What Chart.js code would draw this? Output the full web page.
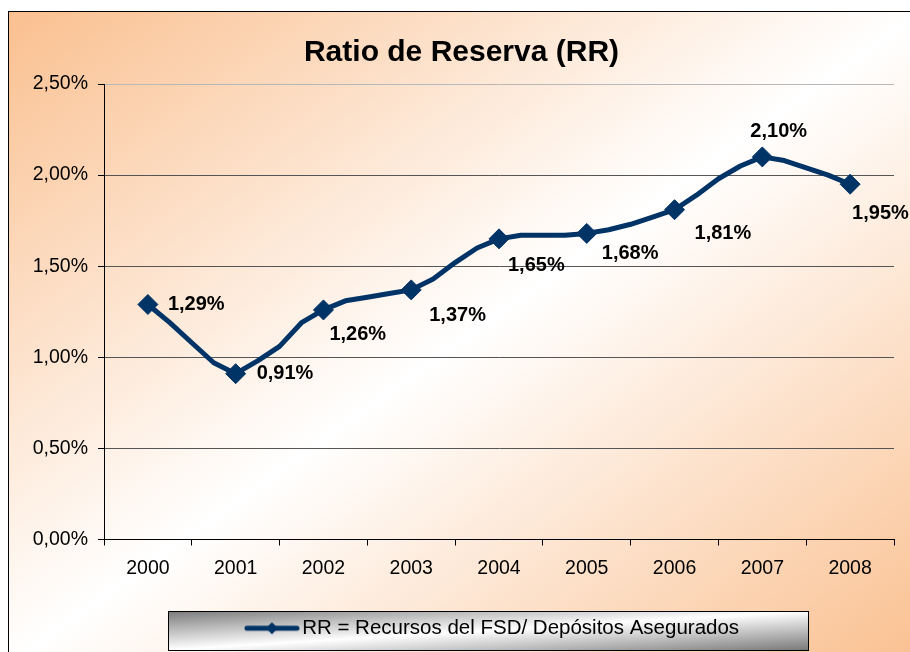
<!DOCTYPE html>
<html lang="es">
<head>
<meta charset="utf-8">
<title>Ratio de Reserva (RR)</title>
<script src="https://cdn.jsdelivr.net/npm/chart.js@4.4.1/dist/chart.umd.min.js"></script>
<style>
    html, body { margin: 0; padding: 0; background: #fff; overflow: hidden; }
    .fondo {
        position: absolute;
        left: 8px;
        top: 11px;
        width: 912px;
        height: 652px;
        border-left: 1px solid #000;
        border-top: 1px solid #000;
        background: linear-gradient(to bottom right, #fac090 0%, #ffffff 50%, #fac090 100%);
    }
    #ratioChart { position: absolute; left: 0; top: 0; }
</style>
</head>
<body>
<div class="fondo"></div>
<canvas id="ratioChart" width="910" height="652"></canvas>
<script>
// ========================================
// RATIO DE RESERVA (RR) - datos trimestrales
// ========================================

// Años del eje X (un marcador por año, a diciembre)
const years = ['2000', '2001', '2002', '2003', '2004', '2005', '2006', '2007', '2008'];

// Valores trimestrales del ratio (%), dic-2000 ... dic-2008
const rrValues = [
    1.29, 1.19, 1.08, 0.97,
    0.91, 0.98, 1.06, 1.19,
    1.26, 1.31, 1.33, 1.35,
    1.37, 1.43, 1.52, 1.60,
    1.65, 1.67, 1.67, 1.67,
    1.68, 1.70, 1.73, 1.77,
    1.81, 1.89, 1.98, 2.05,
    2.10, 2.08, 2.04, 2.00,
    1.95
];
const pointsPerYear = 4;

// Marcas del eje Y
const yTickValues = [0, 0.5, 1.0, 1.5, 2.0, 2.5];

const seriesLabel = 'RR = Recursos del FSD/ Depósitos Asegurados';

// Desplazamiento de cada etiqueta respecto de su marcador (px)
const labelOffsets = [
    [20, 0], [21, 0], [6, 25], [18, 26], [9, 27],
    [15, 20], [20, 24], [-12, -25], [2, 29]
];

const NAVY = '#003366';
const FONT_FAMILY = '"Liberation Sans", Arial, sans-serif';

// Formato 1,29%
function formatPct(v) {
    return v.toFixed(2).replace('.', ',') + '%';
}

// Símbolo de la leyenda: línea con rombo
function makeLegendSymbol() {
    const c = document.createElement('canvas');
    c.width = 56;
    c.height = 16;
    const g = c.getContext('2d');
    g.strokeStyle = NAVY;
    g.lineWidth = 5;
    g.lineCap = 'round';
    g.beginPath();
    g.moveTo(3, 8);
    g.lineTo(53, 8);
    g.stroke();
    g.fillStyle = NAVY;
    g.beginPath();
    g.moveTo(22, 8);
    g.lineTo(28, 2);
    g.lineTo(34, 8);
    g.lineTo(28, 14);
    g.closePath();
    g.fill();
    return c;
}

// Etiquetas de datos (negrita) junto a cada marcador anual
const etiquetasPlugin = {
    id: 'etiquetas',
    afterDatasetsDraw(chart) {
        const meta = chart.getDatasetMeta(0);
        const ctx = chart.ctx;
        ctx.save();
        ctx.font = 'bold 20px ' + FONT_FAMILY;
        ctx.fillStyle = '#000';
        ctx.textAlign = 'left';
        ctx.textBaseline = 'middle';
        years.forEach(function (year, k) {
            const i = k * pointsPerYear;
            const pt = meta.data[i];
            const off = labelOffsets[k];
            ctx.fillText(formatPct(rrValues[i]), pt.x + off[0], pt.y + off[1]);
        });
        ctx.restore();
    }
};

// Recuadro gris de la leyenda + desplazamiento de la leyenda
const cajaLeyendaPlugin = {
    id: 'cajaLeyenda',
    afterLayout(chart, args, opts) {
        chart.legend.left += opts.shift;
        chart.legend.right += opts.shift;
    },
    beforeDraw(chart, args, opts) {
        const ctx = chart.ctx;
        const b = opts.box;
        ctx.save();
        ctx.translate(b.left, b.top);
        ctx.scale(b.width, b.height);
        const grad = ctx.createLinearGradient(0, 0, 1, 1);
        grad.addColorStop(0, '#7a7a7a');
        grad.addColorStop(0.5, '#ffffff');
        grad.addColorStop(1, '#7a7a7a');
        ctx.fillStyle = grad;
        ctx.fillRect(0, 0, 1, 1);
        ctx.restore();
        ctx.save();
        ctx.strokeStyle = '#000';
        ctx.lineWidth = 1;
        ctx.strokeRect(b.left + 0.5, b.top + 0.5, b.width, b.height);
        ctx.restore();
    }
};

function initChart() {
    const canvas = document.getElementById('ratioChart');
    const legendSymbol = makeLegendSymbol();

    const points = rrValues.map(function (v, i) {
        return { x: i / pointsPerYear, y: v };
    });

    new Chart(canvas, {
        type: 'line',
        data: {
            datasets: [{
                label: seriesLabel,
                data: points,
                borderColor: NAVY,
                backgroundColor: NAVY,
                borderWidth: 5,
                borderJoinStyle: 'round',
                borderCapStyle: 'round',
                tension: 0,
                fill: false,
                pointStyle: 'rectRot',
                pointRadius: function (c) {
                    return c.dataIndex % pointsPerYear === 0 ? 10 : 0;
                },
                pointBorderWidth: 1,
                pointBackgroundColor: NAVY,
                pointBorderColor: NAVY
            }]
        },
        options: {
            responsive: false,
            animation: false,
            devicePixelRatio: 1,
            events: [],
            layout: {
                padding: { left: 29, right: 16, top: 0, bottom: 3.5 }
            },
            plugins: {
                title: {
                    display: true,
                    text: 'Ratio de Reserva (RR)',
                    color: '#000',
                    font: { size: 30, weight: 'bold', family: FONT_FAMILY },
                    padding: { top: 35, bottom: 13 }
                },
                legend: {
                    display: true,
                    position: 'bottom',
                    labels: {
                        usePointStyle: true,
                        pointStyleWidth: 40,
                        padding: 34.5,
                        color: '#000',
                        font: { size: 20.5, family: FONT_FAMILY },
                        generateLabels: function () {
                            return [{
                                text: seriesLabel,
                                pointStyle: legendSymbol,
                                fillStyle: NAVY,
                                strokeStyle: NAVY,
                                lineWidth: 0,
                                hidden: false,
                                datasetIndex: 0
                            }];
                        }
                    }
                },
                tooltip: { enabled: false },
                cajaLeyenda: {
                    shift: 34,
                    box: { left: 168, top: 611, width: 640, height: 39 }
                }
            },
            scales: {
                x: {
                    type: 'linear',
                    min: -0.5,
                    max: 8.5,
                    afterBuildTicks: function (s) {
                        s.ticks = years.map(function (y, i) { return { value: i }; });
                    },
                    afterFit: function (s) { s.height = 44; },
                    border: { display: true, color: '#000', width: 1 },
                    grid: {
                        display: true,
                        drawOnChartArea: false,
                        drawTicks: true,
                        offset: true,
                        tickLength: 6,
                        color: '#000'
                    },
                    ticks: {
                        padding: 11,
                        color: '#000',
                        maxRotation: 0,
                        autoSkip: false,
                        font: { size: 19.5, family: FONT_FAMILY },
                        callback: function (value) { return years[value]; }
                    }
                },
                y: {
                    min: 0,
                    max: 2.5,
                    afterBuildTicks: function (s) {
                        s.ticks = yTickValues.map(function (v) { return { value: v }; });
                    },
                    afterFit: function (s) { s.width = 75; },
                    border: { display: true, color: '#000', width: 1 },
                    grid: {
                        color: function (c) {
                            return c.tick && c.tick.value === 2.5 ? '#b8b8b8' : '#555555';
                        },
                        tickColor: '#000',
                        tickLength: 6,
                        lineWidth: 1
                    },
                    ticks: {
                        padding: 10,
                        color: '#000',
                        font: { size: 19.5, family: FONT_FAMILY },
                        callback: function (value) { return formatPct(value); }
                    }
                }
            }
        },
        plugins: [etiquetasPlugin, cajaLeyendaPlugin]
    });
}

document.addEventListener('DOMContentLoaded', function () {
    if (typeof Chart !== 'undefined') {
        initChart();
    } else {
        console.error('Chart.js no está cargado');
    }
});
</script>
</body>
</html>
